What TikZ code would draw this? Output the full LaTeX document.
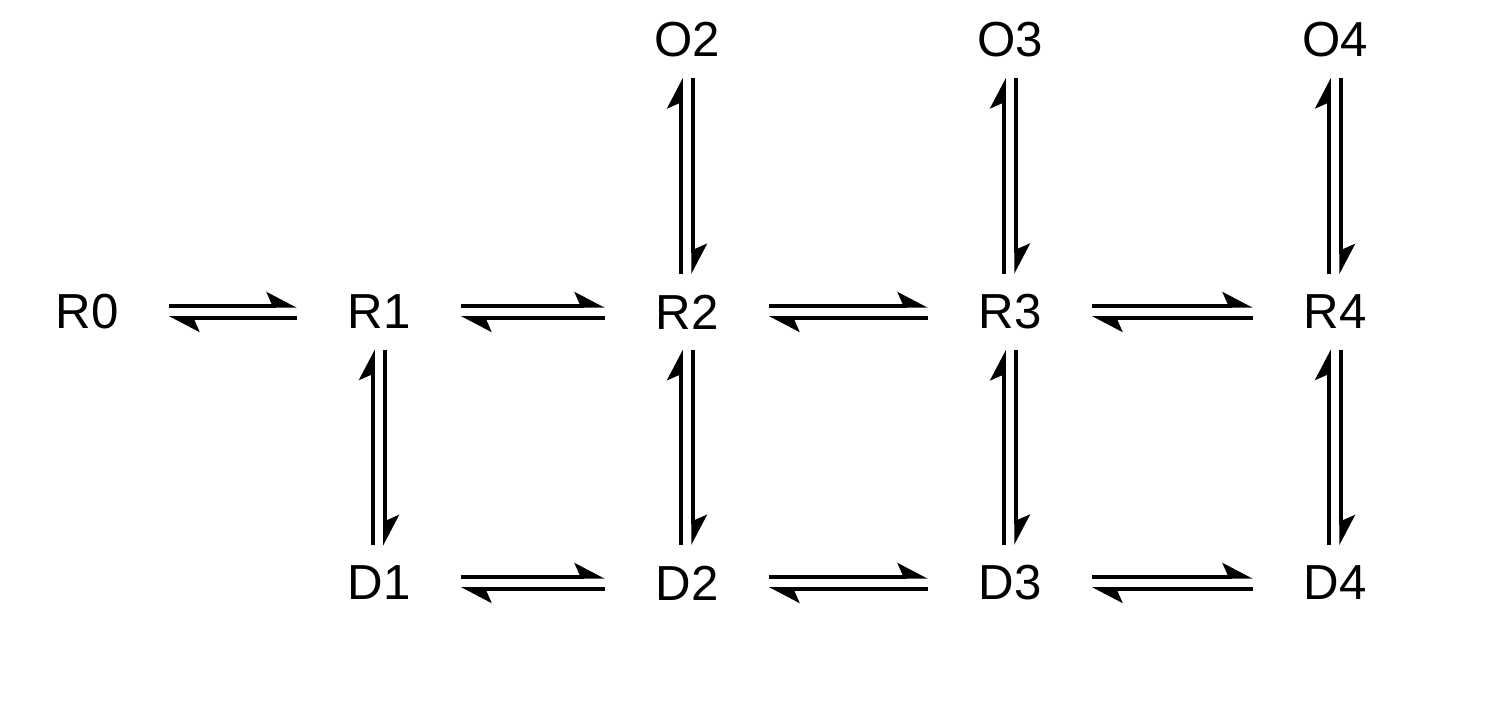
\documentclass[tikz,border=0pt]{standalone}
\usepackage{fontspec}
\setmainfont{Liberation Sans}
\usetikzlibrary{arrows.meta}

\begin{document}
\begin{tikzpicture}[
    state/.style={inner xsep=0.5cm, inner ysep=0.2cm, font=\fontsize{14}{16}\selectfont},
    eq/.style={line width=1pt, -{Stealth[left, length=0.27cm, width=0.28cm, inset=0.06cm]}}
  ]
  \useasboundingbox (0, 0) rectangle (14.96, 7.14);

  % states
  \node (R0) at (0.87, 4.02) [state] {R0};
  \node (R1) at (3.79, 4.02) [state] {R1};
  \node (R2) at (6.87, 4.02) [state] {R2};
  \node (R3) at (10.10, 4.02) [state] {R3};
  \node (R4) at (13.35, 4.02) [state] {R4};

  \node (O2) at (6.87, 6.74) [state] {O2};
  \node (O3) at (10.10, 6.74) [state] {O3};
  \node (O4) at (13.35, 6.74) [state] {O4};

  \node (D1) at (3.79, 1.31) [state] {D1};
  \node (D2) at (6.87, 1.31) [state] {D2};
  \node (D3) at (10.10, 1.31) [state] {D3};
  \node (D4) at (13.35, 1.31) [state] {D4};

  % horizontal equilibria
  \draw[eq] ([yshift=0.06cm]R0.east) -- ([yshift=0.06cm]R1.west);
  \draw[eq] ([yshift=-0.06cm]R1.west) -- ([yshift=-0.06cm]R0.east);
  \draw[eq] ([yshift=0.06cm]R1.east) -- ([yshift=0.06cm]R2.west);
  \draw[eq] ([yshift=-0.06cm]R2.west) -- ([yshift=-0.06cm]R1.east);
  \draw[eq] ([yshift=0.06cm]R2.east) -- ([yshift=0.06cm]R3.west);
  \draw[eq] ([yshift=-0.06cm]R3.west) -- ([yshift=-0.06cm]R2.east);
  \draw[eq] ([yshift=0.06cm]R3.east) -- ([yshift=0.06cm]R4.west);
  \draw[eq] ([yshift=-0.06cm]R4.west) -- ([yshift=-0.06cm]R3.east);

  \draw[eq] ([yshift=0.06cm]D1.east) -- ([yshift=0.06cm]D2.west);
  \draw[eq] ([yshift=-0.06cm]D2.west) -- ([yshift=-0.06cm]D1.east);
  \draw[eq] ([yshift=0.06cm]D2.east) -- ([yshift=0.06cm]D3.west);
  \draw[eq] ([yshift=-0.06cm]D3.west) -- ([yshift=-0.06cm]D2.east);
  \draw[eq] ([yshift=0.06cm]D3.east) -- ([yshift=0.06cm]D4.west);
  \draw[eq] ([yshift=-0.06cm]D4.west) -- ([yshift=-0.06cm]D3.east);

  % vertical equilibria
  \draw[eq] ([xshift=-0.06cm]R2.north) -- ([xshift=-0.06cm]O2.south);
  \draw[eq] ([xshift=0.06cm]O2.south) -- ([xshift=0.06cm]R2.north);
  \draw[eq] ([xshift=-0.06cm]R3.north) -- ([xshift=-0.06cm]O3.south);
  \draw[eq] ([xshift=0.06cm]O3.south) -- ([xshift=0.06cm]R3.north);
  \draw[eq] ([xshift=-0.06cm]R4.north) -- ([xshift=-0.06cm]O4.south);
  \draw[eq] ([xshift=0.06cm]O4.south) -- ([xshift=0.06cm]R4.north);

  \draw[eq] ([xshift=-0.06cm]D1.north) -- ([xshift=-0.06cm]R1.south);
  \draw[eq] ([xshift=0.06cm]R1.south) -- ([xshift=0.06cm]D1.north);
  \draw[eq] ([xshift=-0.06cm]D2.north) -- ([xshift=-0.06cm]R2.south);
  \draw[eq] ([xshift=0.06cm]R2.south) -- ([xshift=0.06cm]D2.north);
  \draw[eq] ([xshift=-0.06cm]D3.north) -- ([xshift=-0.06cm]R3.south);
  \draw[eq] ([xshift=0.06cm]R3.south) -- ([xshift=0.06cm]D3.north);
  \draw[eq] ([xshift=-0.06cm]D4.north) -- ([xshift=-0.06cm]R4.south);
  \draw[eq] ([xshift=0.06cm]R4.south) -- ([xshift=0.06cm]D4.north);
\end{tikzpicture}
\end{document}
